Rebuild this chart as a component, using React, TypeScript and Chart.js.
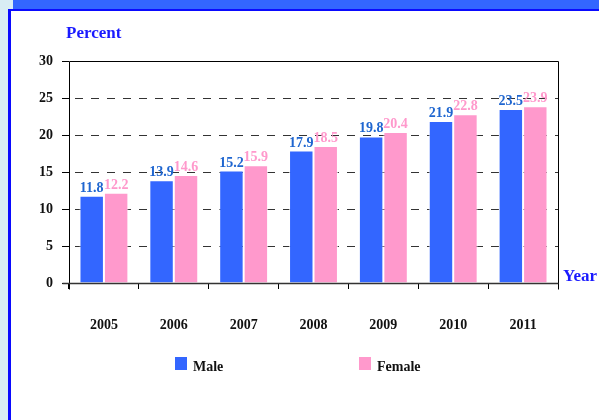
import React, { useEffect, useRef } from "react";
import { Chart, registerables } from "chart.js";

Chart.register(...registerables);

const years = ["2005", "2006", "2007", "2008", "2009", "2010", "2011"];
const maleValues = [11.8, 13.9, 15.2, 17.9, 19.8, 21.9, 23.5];
const femaleValues = [12.2, 14.6, 15.9, 18.5, 20.4, 22.8, 23.9];
const seriesNames = ["Male", "Female"];
const yMin = 0;
const yMax = 30;
const yStep = 5;
const yAxisTitle = "Percent";
const xAxisTitle = "Year";

const FONT = '"Liberation Serif", "Times New Roman", serif';
const MALE = "#3366ff";
const FEMALE = "#ff99cc";
const MALE_LABEL = "#1f66d0";
const FEMALE_LABEL = "#ff99cc";
const TITLE_BLUE = "#1a1aff";

const framePlugin = {
  id: "frame",
  afterDatasetsDraw(chart: any) {
    const { ctx, chartArea } = chart;
    const { left, right, top, bottom } = chartArea;
    const L = Math.round(left) + 0.5;
    const R = Math.round(right) + 0.5;
    const T = Math.round(top) + 0.5;
    const B = Math.round(bottom) + 0.5;
    ctx.save();
    ctx.strokeStyle = "#000";
    ctx.lineWidth = 1;
    ctx.setLineDash([]);
    ctx.beginPath();
    ctx.moveTo(L, T);
    ctx.lineTo(R, T);
    ctx.moveTo(R, T);
    ctx.lineTo(R, B + 6);
    ctx.moveTo(L, T);
    ctx.lineTo(L, B + 6);
    ctx.stroke();
    ctx.strokeStyle = "#333";
    ctx.lineWidth = 1.5;
    ctx.beginPath();
    ctx.moveTo(L - 7, B);
    ctx.lineTo(R, B);
    ctx.stroke();
    ctx.restore();
  },
};

const labelsPlugin = {
  id: "valueLabels",
  afterDatasetsDraw(chart: any) {
    const { ctx } = chart;
    const colors = [MALE_LABEL, FEMALE_LABEL];
    ctx.save();
    ctx.font = `bold 14px ${FONT}`;
    ctx.textAlign = "center";
    ctx.textBaseline = "alphabetic";
    chart.data.datasets.forEach((ds: any, di: number) => {
      const meta = chart.getDatasetMeta(di);
      ctx.fillStyle = colors[di];
      meta.data.forEach((el: any, i: number) => {
        ctx.fillText(ds.data[i].toFixed(1), el.x, el.y - 4);
      });
    });
    ctx.restore();
  },
};

const decorPlugin = {
  id: "decor",
  afterDraw(chart: any) {
    const { ctx } = chart;
    ctx.save();
    ctx.fillStyle = TITLE_BLUE;
    ctx.font = `bold 17px ${FONT}`;
    ctx.textAlign = "left";
    ctx.textBaseline = "alphabetic";
    ctx.fillText(yAxisTitle, 66, 38);
    ctx.fillText(xAxisTitle, 563, 281);

    const items = [
      { x: 175, color: MALE },
      { x: 359, color: FEMALE },
    ];
    ctx.font = `bold 14px ${FONT}`;
    chart.data.datasets.forEach((ds: any, i: number) => {
      const it = items[i];
      ctx.fillStyle = ds.backgroundColor;
      ctx.fillRect(it.x, 357, 12, 13);
      ctx.fillStyle = "#111";
      ctx.fillText(ds.label, it.x + 18, 371);
    });
    ctx.restore();
  },
};

export default function App() {
  const canvasRef = useRef<HTMLCanvasElement | null>(null);

  useEffect(() => {
    document.body.style.margin = "0";
    const canvas = canvasRef.current;
    if (!canvas) return;
    const chart = new Chart(canvas, {
      type: "bar",
      data: {
        labels: years,
        datasets: [
          {
            label: seriesNames[0],
            data: maleValues,
            backgroundColor: MALE,
            borderColor: "rgba(255,255,255,0.7)",
            borderWidth: 1,
            categoryPercentage: 0.7,
            barPercentage: 1.0,
          },
          {
            label: seriesNames[1],
            data: femaleValues,
            backgroundColor: FEMALE,
            borderColor: "rgba(255,255,255,0.7)",
            borderWidth: 1,
            categoryPercentage: 0.7,
            barPercentage: 1.0,
          },
        ],
      },
      options: {
        responsive: false,
        animation: false,
        devicePixelRatio: 1,
        layout: { padding: { top: 61, right: 41, bottom: 77, left: 0 } },
        plugins: {
          legend: { display: false },
          tooltip: { enabled: false },
          title: { display: false },
        },
        scales: {
          x: {
            offset: true,
            grid: {
              display: true,
              drawOnChartArea: false,
              drawTicks: true,
              tickLength: 6,
              tickColor: "#000",
              offset: true,
            },
            border: { display: false },
            ticks: {
              color: "#111",
              font: { family: FONT, size: 14, weight: "bold" },
              padding: 28,
              maxRotation: 0,
            },
            afterFit: (scale: any) => {
              scale.height = 60;
            },
          },
          y: {
            min: yMin,
            max: yMax,
            grid: {
              color: "#333",
              lineWidth: 1,
              drawTicks: true,
              tickLength: 7,
              tickColor: "#000",
              tickBorderDash: [],
            },
            border: { display: false, dash: [8, 8], dashOffset: 10 },
            ticks: {
              stepSize: yStep,
              color: "#111",
              font: { family: FONT, size: 14, weight: "bold" },
              padding: 9,
            },
            afterFit: (scale: any) => {
              scale.width = 69;
            },
          },
        },
      },
      plugins: [framePlugin, labelsPlugin, decorPlugin],
    });
    return () => chart.destroy();
  }, []);

  return (
    <div
      style={{
        position: "relative",
        width: 599,
        height: 420,
        background: "#ffffff",
        overflow: "hidden",
      }}
    >
      <div style={{ position: "absolute", left: 0, top: 0, width: 8, height: 420, background: "#d9edf4" }} />
      <div style={{ position: "absolute", left: 0, top: 0, width: 13, height: 9, background: "#d9edf4" }} />
      <div style={{ position: "absolute", left: 13, top: 0, width: 586, height: 9, background: "#3366ff" }} />
      <div style={{ position: "absolute", left: 8, top: 9, width: 591, height: 2, background: "#0a0aff" }} />
      <div style={{ position: "absolute", left: 8, top: 9, width: 3, height: 411, background: "#0a0aff" }} />
      <canvas
        ref={canvasRef}
        width={599}
        height={420}
        style={{ position: "absolute", left: 0, top: 0, width: 599, height: 420 }}
      />
    </div>
  );
}
